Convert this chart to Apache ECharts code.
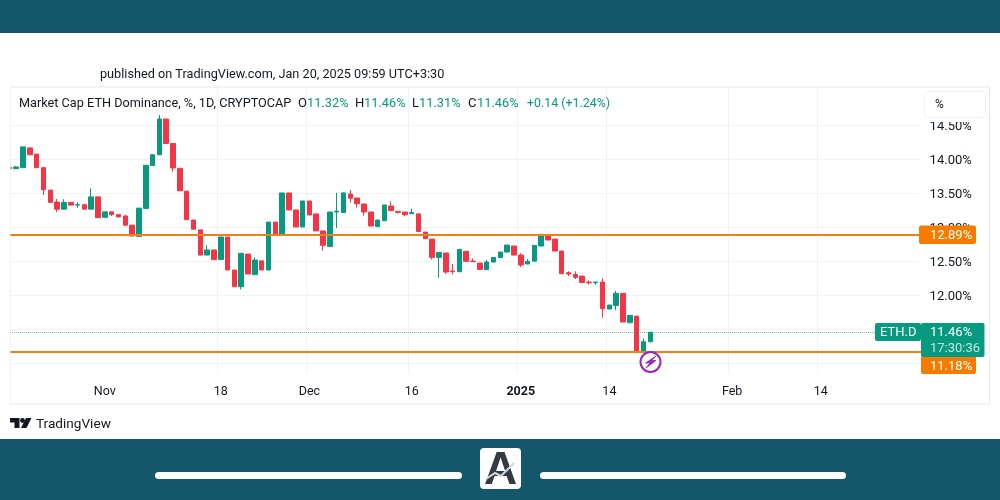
<!DOCTYPE html>
<html>
<head>
<meta charset="utf-8">
<style>html,body{margin:0;padding:0;background:#fff}#main{width:1000px;height:500px}</style>
<script src="https://cdn.jsdelivr.net/npm/echarts@6/dist/echarts.min.js"></script>
</head>
<body>
<div id="main"></div>
<script>
// daily candles, Oct 18 2024 to Jan 20 2025
const opens = [13.88,13.865,13.88,14.17,14.08,13.88,13.55,13.375,13.27,13.37,13.33,13.335,13.27,13.45,13.15,13.23,13.19,13.17,13.035,12.87,13.28,13.91,14.07,14.595,14.235,13.87,13.535,13.11,12.965,12.595,12.67,12.53,12.86,12.375,12.13,12.61,12.307,12.51,12.375,13.08,12.895,13.508,13.258,13.008,13.39,13.2,12.95,12.72,13.228,13.22,13.493,13.434,13.346,13.228,13.013,13.1,13.317,13.238,13.228,13.204,13.2,12.933,12.83,12.561,12.625,12.36,12.35,12.65,12.507,12.477,12.38,12.492,12.56,12.639,12.728,12.595,12.463,12.505,12.728,12.89,12.83,12.654,12.335,12.31,12.286,12.198,12.188,12.198,11.801,11.855,12.032,11.6,11.698,11.183,11.32];
const closes = [13.87,13.89,14.185,14.07,13.88,13.555,13.37,13.27,13.37,13.33,13.335,13.27,13.45,13.145,13.23,13.19,13.155,13.035,12.875,13.285,13.915,14.07,14.595,14.235,13.875,13.54,13.115,12.975,12.595,12.67,12.53,12.86,12.375,12.13,12.62,12.316,12.522,12.375,13.08,12.895,13.508,13.258,13.008,13.39,13.184,12.95,12.738,13.228,13.24,13.508,13.43,13.35,13.228,13.022,13.11,13.331,13.248,13.224,13.189,13.22,12.94,12.835,12.561,12.634,12.345,12.35,12.679,12.502,12.497,12.384,12.492,12.56,12.639,12.742,12.595,12.448,12.502,12.737,12.9,12.816,12.654,12.32,12.316,12.267,12.193,12.188,12.198,11.806,11.86,12.032,11.61,11.708,11.178,11.32,11.46];
const lows = [13.865,13.865,13.88,14.07,13.88,13.48,13.37,13.23,13.27,13.33,13.29,13.27,13.27,13.145,13.15,13.17,13.155,13.02,12.875,12.87,13.28,13.91,14.07,14.235,13.82,13.54,13.115,12.975,12.595,12.595,12.53,12.53,12.375,12.13,12.09,12.316,12.307,12.375,12.375,12.895,12.895,13.258,13.008,13.008,13.184,12.95,12.66,12.72,12.993,13.22,13.366,13.292,13.174,13.022,13.013,13.1,13.248,13.2,13.165,13.204,12.94,12.835,12.53,12.262,12.32,12.311,12.35,12.502,12.497,12.384,12.38,12.492,12.55,12.639,12.595,12.419,12.463,12.505,12.728,12.816,12.654,12.32,12.286,12.242,12.193,12.159,12.159,11.674,11.801,11.786,11.61,11.6,11.178,11.17,11.31];
const highs = [13.885,13.905,14.185,14.17,14.08,13.88,13.55,13.42,13.415,13.37,13.375,13.35,13.575,13.45,13.23,13.23,13.19,13.185,13.035,13.285,13.915,14.07,14.655,14.595,14.235,13.87,13.535,13.11,12.965,12.74,12.67,12.86,12.86,12.375,12.62,12.61,12.56,12.51,13.08,13.08,13.508,13.508,13.258,13.39,13.39,13.2,12.95,13.228,13.508,13.518,13.552,13.434,13.346,13.228,13.11,13.331,13.385,13.238,13.228,13.277,13.2,12.933,12.83,12.634,12.625,12.463,12.679,12.65,12.546,12.477,12.522,12.56,12.639,12.742,12.728,12.62,12.536,12.737,12.9,12.89,12.83,12.654,12.355,12.355,12.286,12.223,12.198,12.252,11.86,12.066,12.032,11.708,11.698,11.37,11.46];

const tickDates = ['2024-11-01','2024-11-18','2024-12-01','2024-12-16','2025-01-01','2025-01-14','2025-02-01','2025-02-14'];
const tickTexts = ['Nov','18','Dec','16','2025','14','Feb','14'];
const priceGrid = [11,11.5,12,12.5,13,13.5,14,14.5];
const priceLabels = [12,12.5,13,13.5,14,14.5];
const supportLevels = [12.89,11.18];
const lastPrice = 11.46;

// one category per day, runs on past the last candle up to end of Feb
const categories = [];
for (let d = new Date(Date.UTC(2024,9,18)); d <= new Date(Date.UTC(2025,1,28)); d.setUTCDate(d.getUTCDate()+1)) {
  categories.push(d.toISOString().slice(0,10));
}

const GREEN = '#089981', RED = '#F23645', ORANGE = '#F57C00', BAND = '#14566A';
const FONT = 'Roboto';
const INK = '#131722';

const isTick = (i, name) => tickDates.includes(name);

function text(x, y, s, opt) {
  return {type:'text', x, y, z:20, style:Object.assign({text:s, fill:INK, font:'13px '+FONT, verticalAlign:'middle'}, opt||{})};
}
function rect(x, y, w, h, fill, r, stroke) {
  return {type:'rect', z:15, shape:{x,y,width:w,height:h,r:r||0}, style:{fill, stroke:stroke||null, lineWidth:1}};
}

const chart = echarts.init(document.getElementById('main'));
chart.setOption({
  animation:false,
  backgroundColor:'#fff',
  textStyle:{fontFamily:FONT},
  grid:{left:6, right:80.4, top:87, bottom:126},
  xAxis:{
    type:'category', data:categories,
    axisLine:{show:false},
    axisTick:{show:false, alignWithLabel:true, interval:isTick},
    splitLine:{show:true, showMinLine:false, showMaxLine:false, interval:isTick, lineStyle:{color:'#F0F2F6', width:1}},
    axisLabel:{
      interval:isTick, margin:11, fontSize:12.5, color:INK, hideOverlap:false,
      formatter:(name) => {
        const t = tickTexts[tickDates.indexOf(name)];
        return t === '2025' ? '{b|2025}' : t;
      },
      rich:{b:{fontWeight:'bold', fontSize:12.5, color:INK, fontFamily:FONT}}
    }
  },
  yAxis:{
    type:'value', position:'right', scale:true, min:10.846, max:15.066,
    axisLine:{show:false},
    axisTick:{show:false, customValues:priceGrid},
    splitLine:{show:true, lineStyle:{color:'#F0F2F6', width:1}},
    axisLabel:{customValues:priceLabels, margin:10, fontSize:13, color:INK, verticalAlign:'top', padding:[-5.5,0,0,0], formatter:(v) => v.toFixed(2)+'%'}
  },
  series:[{
    type:'candlestick',
    barWidth:5,
    data:opens.map((o,i) => [o, closes[i], lows[i], highs[i]]),
    itemStyle:{color:GREEN, color0:RED, borderColor:GREEN, borderColor0:RED, borderWidth:1},
    markLine:{
      silent:true, symbol:'none', animation:false,
      label:{show:false},
      data:[
        {yAxis:supportLevels[0], lineStyle:{color:'#EF8214', width:2, type:'solid'}},
        {yAxis:supportLevels[1], lineStyle:{color:'#EF8214', width:2, type:'solid'}},
        {yAxis:lastPrice, lineStyle:{color:GREEN, width:1, type:'dotted', opacity:.6}}
      ]
    }
  }],
  graphic:[
    rect(0,0,1000,33,BAND),
    rect(0,439,1000,61,BAND),
    rect(155,472,307,7,'#fff',3.5),
    rect(540,472,306,7,'#fff',3.5),
    rect(480,448,41,41,'#fff',4),
    text(500.5,471,'A',{font:'bold 46px "Liberation Sans"', fill:'#333A42', align:'center'}),
    {type:'polyline', z:21, shape:{points:[[486,479],[495,473],[501,476],[514,463]]}, style:{stroke:'#D5D9DD', lineWidth:2, fill:null}},

    // chart frame, hides the half band left of x=10 and the band edge at the right end
    rect(0,33,10,406,'#fff'),
    rect(919,88,2,287,'#fff'),
    {type:'rect', z:14, shape:{x:10,y:87,width:979.5,height:317}, style:{fill:null, stroke:'#E6E8EE', lineWidth:1}},

    text(100,74.5,'published on TradingView.com, Jan 20, 2025 09:59 UTC+3:30',{font:'12.7px '+FONT}),
    text(19,103.5,'Market Cap ETH Dominance, %, 1D, CRYPTOCAP',{font:'12.7px '+FONT}),
    text(298,103.5,'O'), text(307,103.5,'11.32%',{fill:GREEN,font:'12.8px '+FONT}),
    text(355,103.5,'H'), text(364,103.5,'11.46%',{fill:GREEN,font:'12.8px '+FONT}),
    text(412,103.5,'L'), text(419,103.5,'11.31%',{fill:GREEN,font:'12.8px '+FONT}),
    text(468,103.5,'C'), text(477,103.5,'11.46%',{fill:GREEN,font:'12.8px '+FONT}),
    text(527,103.5,'+0.14 (+1.24%)',{fill:GREEN,font:'12.4px '+FONT}),

    // % box sits over the top of the 14.50 label
    rect(921,117,65,5,'#fff'),
    rect(924.5,91.5,61,26,'#fff',4,'#EEF0F4'),
    text(935,104.5,'%',{font:'12px '+FONT}),

    // price tags on the scale
    rect(919,225.5,57,18.5,ORANGE,2),
    text(930,235.5,'12.89%',{fill:'#fff'}),
    rect(921,356,55,18,ORANGE,2),
    rect(919,351,3,2,'#EF8214'),
    text(930,366.5,'11.18%',{fill:'#fff'}),
    rect(875,323,46,18,GREEN,2),
    text(880,333,'ETH.D',{fill:'#fff'}),
    rect(921,323,63.5,34,GREEN,2),
    text(930,333,'11.46%',{fill:'#fff'}),
    text(930,348.5,'17:30:36',{fill:'#BFE5DC'}),

    // purple marker under the last candle
    {type:'circle', z:16, shape:{cx:650.5,cy:362,r:10}, style:{fill:'#fff', stroke:'#9C27B0', lineWidth:2}},
    {type:'polygon', z:17, shape:{points:[[656,356],[645.5,363],[650,363],[646,368],[656,360.5],[651.5,360.5]]}, style:{fill:'#9C27B0', stroke:'#9C27B0', lineWidth:0.8}},

    // TradingView logo
    {type:'polygon', z:20, shape:{points:[[10,418],[19.5,418],[19.5,428],[14.5,428],[14.5,422.5],[10,422.5]]}, style:{fill:INK}},
    {type:'circle', z:20, shape:{cx:22.5,cy:420.5,r:2.4}, style:{fill:INK}},
    {type:'polygon', z:20, shape:{points:[[26,418],[31.5,418],[26.5,428],[21,428]]}, style:{fill:INK}},
    text(36,424.5,'TradingView',{font:'13.6px '+FONT})
  ]
});
</script>
</body>
</html>
